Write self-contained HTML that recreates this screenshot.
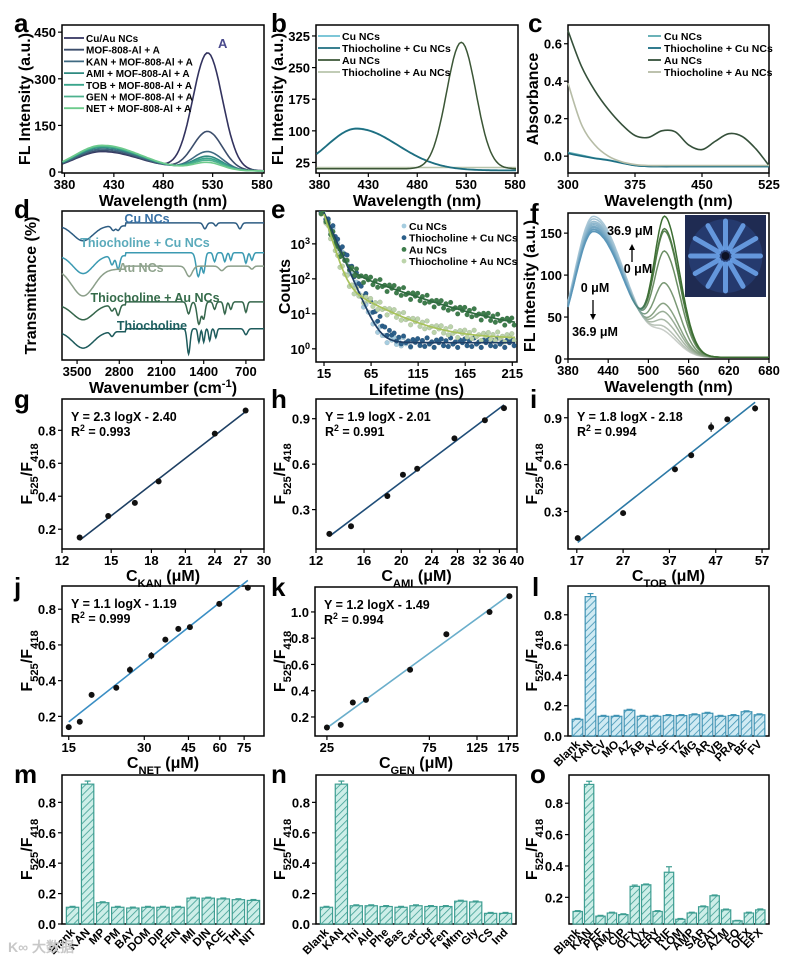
<!DOCTYPE html>
<html><head><meta charset="utf-8"><style>
html,body{margin:0;padding:0;background:#fff;}
svg{display:block;font-family:"Liberation Sans",Arial,sans-serif;font-weight:bold;}
</style></head><body>
<svg id="fig" width="800" height="960" viewBox="0 0 800 960" xmlns="http://www.w3.org/2000/svg">
<defs>
<pattern id="hatchBlue" patternUnits="userSpaceOnUse" width="5" height="5" patternTransform="rotate(45)"><rect width="5" height="5" fill="#cfeaf3"/><line x1="0" y1="0" x2="0" y2="5" stroke="#3f93b3" stroke-width="1.6"/></pattern>
<pattern id="hatchTeal" patternUnits="userSpaceOnUse" width="5" height="5" patternTransform="rotate(45)"><rect width="5" height="5" fill="#cdeee8"/><line x1="0" y1="0" x2="0" y2="5" stroke="#3e9e92" stroke-width="1.6"/></pattern>
<clipPath id="clipE"><rect x="316" y="211" width="201" height="151"/></clipPath>
</defs>
</svg>
<script>
// ---------------- DATA ----------------
const aSeries=['Cu/Au NCs','MOF-808-Al + A','KAN + MOF-808-Al + A','AMI  + MOF-808-Al + A','TOB + MOF-808-Al + A','GEN + MOF-808-Al + A','NET + MOF-808-Al + A'];
const aPeak418=[62,65,70,75,78,80,82];
const aPeak525=[378,125,60,45,38,32,25];
const aTicks=[380,430,480,530,580];
const aYTicks=[0,150,300,450];

const bSeries=['Cu NCs','Thiocholine + Cu NCs','Au NCs','Thiocholine + Au NCs'];
const bPeak418=[100,99,0,0];
const bPeak525=[0,0,300,0];
const bBase=[6,6,10,13];
const bTicks=[380,430,480,530,580];
const bYTicks=[25,100,175,250,325];

const cSeries=['Cu NCs','Thiocholine + Cu NCs','Au NCs','Thiocholine + Au NCs'];
const cX=[300,315,330,345,360,375,390,405,420,435,450,465,480,495,510,525];
const cCu=[0.02,0.005,-0.01,-0.02,-0.035,-0.05,-0.055,-0.055,-0.055,-0.055,-0.055,-0.055,-0.055,-0.055,-0.055,-0.055];
const cThioCu=[0.015,0.0,-0.012,-0.022,-0.037,-0.05,-0.055,-0.056,-0.056,-0.056,-0.056,-0.056,-0.056,-0.056,-0.056,-0.056];
const cAu=[0.67,0.48,0.35,0.25,0.17,0.11,0.10,0.135,0.13,0.06,0.035,0.08,0.12,0.105,0.04,-0.05];
const cThioAu=[0.39,0.17,0.06,0.0,-0.03,-0.045,-0.05,-0.05,-0.05,-0.05,-0.05,-0.05,-0.05,-0.05,-0.05,-0.05];
const cTicks=[300,375,450,525];
const cYTicks=[0.0,0.2,0.4,0.6];

const dNames=['Cu NCs','Thiocholine + Cu NCs','Au NCs','Thiocholine + Au NCs','Thiocholine'];
const dBase=[90,70,61,37,19];
const dDips=[
 [[3400,230,10],[2900,40,3],[2820,40,3],[1380,40,4],[1200,30,2],[800,40,4]],
 [[3400,230,12],[2920,40,6],[2820,40,9],[1490,50,16],[1400,35,13],[1220,30,6],[1050,30,6],[950,25,5],[700,30,7],[600,30,5]],
 [[3400,260,18],[1640,70,7],[1100,60,3],[600,40,2]],
 [[3400,240,10],[2920,40,4],[2820,40,7],[1650,40,8],[1480,45,15],[1400,35,11],[1220,30,5],[1050,30,8],[950,30,5],[700,30,7]],
 [[3400,240,11],[2920,40,3],[1650,35,17],[1480,25,9],[1400,25,9],[1300,25,8],[1200,25,6],[700,40,4]]
];
const dTicks=[3500,2800,2100,1400,700];

const eSeries=['Cu NCs','Thiocholine + Cu NCs','Au NCs','Thiocholine + Au NCs'];
const eAmp1=[8000,8000,7000,7000];
const eTau1=[7,8,6,5];
const eAmp2=[0,0,250,100];
const eTau2=[30,30,45,30];
const eBg=[1.5,1.5,3,2];
const eTicks=[15,65,115,165,215];
const eJitter=[0,0.6,-0.4,0.3,-0.5,0.8,-0.2,0.1,-0.6,0.4];

const fConc=[0,2,4,6,9,13,18,24,30,36.9];
const fPeak418=[168,165,162,160,158,156,155,153,152,150];
const fPeak525=[20,25,33,43,53,78,116,140,143,158];
const fTicks=[380,440,500,560,620,680];
const fYTicks=[0,50,100,150];

const gX=[13,14.8,16.7,18.6,24,27.6]; const gY=[0.15,0.28,0.36,0.49,0.78,0.92]; const gErr=[0.01,0.01,0.01,0.01,0.015,0.015];
const hX=[13,14.8,18.4,20.2,22,27.5,33,37]; const hY=[0.14,0.19,0.39,0.53,0.57,0.77,0.89,0.97]; const hErr=[0.01,0.01,0.02,0.01,0.015,0.01,0.01,0.01];
const iX=[17.2,27,38.2,41.7,46,49.5,55.5]; const iY=[0.13,0.29,0.57,0.66,0.84,0.89,0.96]; const iErr=[0.01,0.01,0.01,0.015,0.03,0.015,0.02];
const jX=[15,16.6,18.5,23.2,26.3,32,36.4,41,45.6,59.7,77.6]; const jY=[0.14,0.17,0.32,0.36,0.46,0.54,0.63,0.69,0.70,0.83,0.92]; const jErr=[0.01,0.01,0.015,0.015,0.02,0.02,0.01,0.01,0.01,0.01,0.01];
const kX=[25,29,33,38,61,90,143,177]; const kY=[0.12,0.14,0.31,0.33,0.56,0.83,1.0,1.12]; const kErr=[0.01,0.01,0.01,0.01,0.01,0.01,0.01,0.01];
const fitA=[2.3,1.9,1.8,1.1,1.2]; const fitB=[-2.40,-2.01,-2.18,-1.19,-1.49];
const fitR2=['0.993','0.991','0.994','0.999','0.994'];

const lCats=['Blank','KAN','CV','MO','AZ','AB','AY','SF','TZ','MG','AR','VB','PRA','BF','FV'];
const lVals=[0.11,0.92,0.13,0.13,0.17,0.13,0.13,0.135,0.135,0.14,0.15,0.13,0.135,0.16,0.14];
const mCats=['Blank','KAN','MP','PM','BAY','DOM','DIP','FEN','IMI','DIN','ACE','THI','NIT'];
const mVals=[0.11,0.92,0.14,0.11,0.105,0.11,0.11,0.11,0.17,0.17,0.165,0.16,0.155];
const nCats=['Blank','KAN','Thi','Ald','Phe','Bas','Car','Cbf','Fen','Mtm','Gly','CS','Ind'];
const nVals=[0.11,0.92,0.12,0.12,0.115,0.11,0.12,0.115,0.115,0.15,0.145,0.07,0.07];
const oCats=['Blank','KAN','PEF','AMX','CIP','OFX','LVX','ERY','RIF','LOM','AMP','SAR','GAT','AZM','FO','OFX','EFX'];
const oVals=[0.11,0.92,0.08,0.10,0.09,0.27,0.28,0.11,0.36,0.06,0.10,0.14,0.21,0.12,0.05,0.10,0.12];
const oErr=[0.005,0.02,0.005,0.005,0.005,0.008,0.005,0.005,0.035,0.005,0.005,0.005,0.005,0.005,0.003,0.005,0.006];

// ---------------- HELPERS ----------------
const NS='http://www.w3.org/2000/svg';
const svg=document.getElementById('fig');
function mk(tag,attrs,parent){const e=document.createElementNS(NS,tag);for(const k in attrs)e.setAttribute(k,attrs[k]);(parent||svg).appendChild(e);return e;}
function lin(d0,d1,r0,r1){return v=>r0+(v-d0)/(d1-d0)*(r1-r0);}
function lg(d0,d1,r0,r1){const a=Math.log10(d0),b=Math.log10(d1);return v=>r0+(Math.log10(v)-a)/(b-a)*(r1-r0);}
function pathFrom(pts){return pts.map((p,i)=>(i?'L':'M')+p[0].toFixed(1)+' '+p[1].toFixed(1)).join(' ');}
function smooth(pts){let d='M'+pts[0][0]+' '+pts[0][1];for(let i=0;i<pts.length-1;i++){const p0=pts[i-1]||pts[i],p1=pts[i],p2=pts[i+1],p3=pts[i+2]||p2;d+=' C'+(p1[0]+(p2[0]-p0[0])/6).toFixed(1)+' '+(p1[1]+(p2[1]-p0[1])/6).toFixed(1)+' '+(p2[0]-(p3[0]-p1[0])/6).toFixed(1)+' '+(p2[1]-(p3[1]-p1[1])/6).toFixed(1)+' '+p2[0].toFixed(1)+' '+p2[1].toFixed(1);}return d;}
function segText(parent,segs,x,y,size,anchor,rot){
  const t=mk('text',{x:x,y:y,'font-size':size,'text-anchor':anchor||'middle'},parent);
  if(rot)t.setAttribute('transform','rotate(-90 '+x+' '+y+')');
  segs.forEach(s=>{const sp=mk('tspan',{},t);if(s[1]==='sub'){sp.setAttribute('baseline-shift','sub');sp.setAttribute('font-size',size*0.7);}if(s[1]==='sup'){sp.setAttribute('baseline-shift','super');sp.setAttribute('font-size',size*0.7);}sp.textContent=s[0];});
  return t;
}
function axes(c){
  const g=mk('g',{});
  
  
  const fr=mk('rect',{x:c.L,y:c.T,width:c.R-c.L,height:c.B-c.T,fill:'none',stroke:'#000','stroke-width':1.5},g);
  
  
  (c.xt||[]).forEach((v,i)=>{const x=c.xs(v);mk('line',{x1:x,x2:x,y1:c.B,y2:c.B+4,stroke:'#000','stroke-width':1.2},g);
    if(c.xl!==false){const t=mk('text',{x:x,y:c.B+16,'font-size':13,'text-anchor':'middle'},g);t.textContent=c.xfmt?c.xfmt(v):v;
    
    }});
  (c.yt||[]).forEach((v,i)=>{const y=c.ys(v);mk('line',{x1:c.L-4,x2:c.L,y1:y,y2:y,stroke:'#000','stroke-width':1.2},g);
    if(c.yl!==false){let t;if(c.ysup){t=segText(g,[['10'],[String(v),'sup']],c.L-6,y+5,13,'end');}else{t=mk('text',{x:c.L-6,y:y+5,'font-size':13,'text-anchor':'end'},g);t.textContent=c.yfmt?c.yfmt(v):v;}
    
    }});
  if(c.xtitle){const t=segText(g,c.xtitle,(c.L+c.R)/2,c.B+(c.xty||33),16,'middle');
    
    }
  if(c.ytitle){const t=segText(g,c.ytitle,c.ytx,(c.T+c.B)/2,16,'middle',true);
    
    }
  const L=mk('text',{x:c.lx,y:c.ly,'font-size':26},g);L.textContent=c.letter;
  
  
  return g;
}
function gauss(x,m,s){return Math.exp(-(x-m)*(x-m)/(2*s*s));}
const WL=[['Wavelength (nm)']];
const FL=[['FL Intensity (a.u.)']];
const RATIO=[['F'],['525','sub'],['/F'],['418','sub']];

// ---------------- PANEL A ----------------
(function(){
  const xs=lin(377.5,582,62,264), ys=lin(-3,473,173,25);
  const g=axes({name:'panel-a',L:62,R:264,T:25,B:173,xs,ys,xt:aTicks,yt:aYTicks,xtitle:WL,ytitle:FL,ytx:30,letter:'a',lx:14,ly:32});
  const cols=['#33335f','#3c4e6c','#3f6a82','#2f8a80','#3aa58c','#4cb18e','#6dcb8c'];
  aSeries.forEach((s,i)=>{
    const pts=[];for(let x=378;x<=582;x+=2){const v=aPeak418[i]*(x<418?gauss(x,418,28):gauss(x,418,40))+aPeak525[i]*gauss(x,525,15)+4;pts.push([xs(x),ys(v)]);}
    const p=mk('path',{d:pathFrom(pts),fill:'none',stroke:cols[i],'stroke-width':1.6},g);
    
    
    const ly=38+i*11.7;
    mk('line',{x1:64,x2:84,y1:ly,y2:ly,stroke:cols[i],'stroke-width':1.8},g);
    const t=mk('text',{x:86,y:ly+4,'font-size':10},g);t.textContent=s;
    
    
  });
  const A=mk('text',{x:218,y:48,'font-size':13,fill:'#4a4a8c'},g);A.textContent='A';
  
  
})();

// ---------------- PANEL B ----------------
(function(){
  const xs=lin(376.5,583,316,518), ys=lin(0,351,173,25);
  const g=axes({name:'panel-b',L:316,R:518,T:25,B:173,xs,ys,xt:bTicks,yt:bYTicks,xtitle:WL,ytitle:FL,ytx:283,letter:'b',lx:271,ly:32});
  const cols=['#6cbfd3','#1e6e80','#3b5636','#b8c4ab'];
  const order=[3,0,1,2];
  order.forEach(i=>{
    const pts=[];for(let x=377;x<=582;x+=2){const v=bPeak418[i]*(x<418?gauss(x,418,30):gauss(x,418,42))+bPeak525[i]*gauss(x,525,15)+bBase[i];pts.push([xs(x),ys(v)]);}
    const p=mk('path',{d:pathFrom(pts),fill:'none',stroke:cols[i],'stroke-width':i===1?1.8:1.5},g);
    
    
  });
  bSeries.forEach((s,i)=>{const ly=36+i*12;mk('line',{x1:318,x2:340,y1:ly,y2:ly,stroke:cols[i],'stroke-width':1.8},g);
    const t=mk('text',{x:342,y:ly+4,'font-size':10.5},g);t.textContent=s;
    
    });
})();

// ---------------- PANEL C ----------------
(function(){
  const xs=lin(300,525,568,769), ys=lin(-0.09,0.70,173,25);
  const g=axes({name:'panel-c',L:568,R:769,T:25,B:173,xs,ys,xt:cTicks,yt:cYTicks,yfmt:v=>v.toFixed(1),xtitle:WL,ytitle:[['Absorbance']],ytx:538,letter:'c',lx:528,ly:32});
  const cols=['#5ba9b0','#1c6e83','#35503a','#b6bca6'];
  [cCu,cThioCu,cAu,cThioAu].forEach((arr,i)=>{
    const pts=cX.map((x,j)=>[xs(x),ys(arr[j])]);
    const p=mk('path',{d:smooth(pts),fill:'none',stroke:cols[i],'stroke-width':1.6},g);
    
    
  });
  cSeries.forEach((s,i)=>{const ly=36+i*12;mk('line',{x1:648,x2:661,y1:ly,y2:ly,stroke:cols[i],'stroke-width':1.8},g);
    const t=mk('text',{x:664,y:ly+4,'font-size':10.5},g);t.textContent=s;
    
    });
})();

// ---------------- PANEL D ----------------
(function(){
  const xs=lin(3750,400,62,264), ys=lin(0,100,360,211);
  const g=axes({name:'panel-d',L:62,R:264,T:211,B:360,xs,ys,xt:dTicks,yt:[],xtitle:[['Wavenumber (cm'],['-1','sup'],[')']],ytitle:[['Transmittance (%)']],ytx:36,letter:'d',lx:14,ly:218});
  const cols=['#2d5c82','#3b9ab2','#8c9f8a','#35664b','#1e5b5c'];
  const lcols=['#3a72a6','#5aaabb','#90a48e','#356b4a','#1f6060'];
  const lpos=[[147,223],[145,247],[141,272],[155,302],[152,330]];
  dNames.forEach((n,i)=>{
    const pts=[];
    for(let w=3750;w>=400;w-=10){let v=dBase[i]+(w<2700?2:0);dDips[i].forEach(d=>{const z=(w-d[0])/d[1];v-=d[2]*Math.exp(-z*z);});pts.push([xs(w),ys(v)]);}
    const p=mk('path',{d:pathFrom(pts),fill:'none',stroke:cols[i],'stroke-width':1.5},g);
    
    
    const t=mk('text',{x:lpos[i][0],y:lpos[i][1],'font-size':12.5,'text-anchor':'middle',fill:lcols[i]},g);t.textContent=n;
    
    
  });
})();

// ---------------- PANEL E ----------------
(function(){
  const xs=lin(6.5,220,316,517), ys=lg(0.42,8700,362,211);
  const g=axes({name:'panel-e',L:316,R:517,T:211,B:362,xs,ys:(v)=>ys(Math.pow(10,v)),xt:eTicks,yt:[0,1,2,3],ysup:true,xtitle:[['Lifetime (ns)']],ytitle:[['Counts']],ytx:290,letter:'e',lx:271,ly:218});
  const pc=['#a6cde0','#2b5f8a','#3e7d4c','#bcd4aa'];
  const lc=['#1f3f66','#1f3f66','#2f6a3f','#a8c25a'];
  const cg=mk('g',{'clip-path':'url(#clipE)'},g);
  const f=(i,t)=>eAmp1[i]*Math.exp(-(t-15)/eTau1[i])+eAmp2[i]*Math.exp(-(t-15)/eTau2[i])+eBg[i];
  [0,1,3,2].forEach(i=>{
    let k=0;
    for(let t=12;t<=218;t+=2.5){let v=f(i,Math.max(t,15))*(1+0.45*eJitter[k%eJitter.length]);k++;v=Math.max(v,0.9);
      const c=mk('circle',{cx:xs(t),cy:ys(v),r:2.4,fill:pc[i],stroke:'#00000033','stroke-width':0.4},cg);
      
      }
  });
  [0,2,3].forEach(i=>{
    const pts=[];for(let t=15;t<=218;t+=1)pts.push([xs(t),ys(f(i,t))]);
    const p=mk('path',{d:pathFrom(pts),fill:'none',stroke:lc[i],'stroke-width':1.7},cg);
    
    
  });
  eSeries.forEach((s,i)=>{const ly=226+i*11.7;mk('circle',{cx:404,cy:ly,r:2.4,fill:pc[i]},g);
    const t=mk('text',{x:409,y:ly+4,'font-size':10.5},g);t.textContent=s;
    
    });
})();

// ---------------- PANEL F ----------------
(function(){
  const xs=lin(380,680,568,769), ys=lin(0,174,359,213);
  const g=axes({name:'panel-f',L:568,R:769,T:213,B:359,xs,ys,xt:fTicks,yt:fYTicks,xtitle:WL,ytitle:FL,ytx:535,letter:'f',lx:530,ly:222});
  const defs=svg.querySelector('defs');
  fConc.forEach((c,i)=>{
    const tt=i/(fConc.length-1);
    const gr=mk('linearGradient',{id:'fg'+i,gradientUnits:'userSpaceOnUse',x1:xs(470),x2:xs(500),y1:0,y2:0},defs);
    const bl='rgb('+Math.round(170-80*tt)+','+Math.round(200-50*tt)+','+Math.round(215-30*tt)+')';
    const gn='rgb('+Math.round(200-140*tt)+','+Math.round(205-95*tt)+','+Math.round(200-150*tt)+')';
    mk('stop',{offset:0,'stop-color':bl},gr);mk('stop',{offset:1,'stop-color':gn},gr);
    const pts=[];for(let x=380;x<=680;x+=2){const v=fPeak418[i]*(x<418?gauss(x,418,28):gauss(x,418,46))+fPeak525[i]*(x<525?gauss(x,525,16):gauss(x,525,22))+2;pts.push([xs(x),ys(v)]);}
    const p=mk('path',{d:pathFrom(pts),fill:'none',stroke:'url(#fg'+i+')','stroke-width':1.5},g);
    
    
  });
  const ann=[['36.9 μM',630,235],['0 μM',638,273],['0 μM',595,292],['36.9 μM',595,336]];
  ann.forEach(a=>{const t=mk('text',{x:a[1],y:a[2],'font-size':12.5,'text-anchor':'middle'},g);t.textContent=a[0];
    
    });
  mk('line',{x1:632,x2:632,y1:262,y2:248,stroke:'#000','stroke-width':1.3},g);
  mk('path',{d:'M629 250 L632 244 L635 250 Z',fill:'#000'},g);
  mk('line',{x1:593,x2:593,y1:300,y2:316,stroke:'#000','stroke-width':1.3},g);
  mk('path',{d:'M590 314 L593 320 L596 314 Z',fill:'#000'},g);
  const ins=mk('g',{},g);
  
  
  mk('rect',{x:685,y:215,width:81,height:82,fill:'#1f2b52'},ins);
  mk('circle',{cx:725.5,cy:256,r:37,fill:'#253a6e'},ins);
  for(let k=0;k<12;k++){const a=k*Math.PI/6;const x1=725.5+8*Math.cos(a),y1=256+8*Math.sin(a),x2=725.5+35*Math.cos(a),y2=256+35*Math.sin(a);
    mk('line',{x1:x1,y1:y1,x2:x2,y2:y2,stroke:'#6fa8f0','stroke-width':5,'stroke-linecap':'round',opacity:0.85},ins);}
  mk('circle',{cx:725.5,cy:256,r:4,fill:'#0d1226'},ins);
})();

// ---------------- SCATTER PANELS ----------------
function scatter(cfg,X,Y,E,k,col){
  const g=axes(cfg);
  // least-squares straight line in plot coordinates
  const px=X.map(x=>cfg.xs(x)), n=X.length;
  const mx=px.reduce((a,b)=>a+b,0)/n, my=Y.reduce((a,b)=>a+b,0)/n;
  let sxy=0,sxx=0;px.forEach((p,i)=>{sxy+=(p-mx)*(Y[i]-my);sxx+=(p-mx)*(p-mx);});
  const sl=sxy/sxx, ic=my-sl*mx;
  const x0=Math.min(...px),x1=Math.max(...px);
  const p=mk('line',{x1:x0,y1:cfg.ys(ic+sl*x0),x2:x1,y2:cfg.ys(ic+sl*x1),stroke:col,'stroke-width':1.6},g);
  
  
  X.forEach((x,i)=>{const cx=cfg.xs(x),cy=cfg.ys(Y[i]);
    mk('line',{x1:cx,x2:cx,y1:cfg.ys(Y[i]-E[i]),y2:cfg.ys(Y[i]+E[i]),stroke:'#000','stroke-width':1},g);
    const c=mk('circle',{cx:cx,cy:cy,r:3,fill:'#111'},g);
    
    });
  const t1=mk('text',{x:cfg.L+9,y:cfg.T+22,'font-size':12.5},g);t1.textContent='Y = '+fitA[k]+' logX - '+Math.abs(fitB[k]).toFixed(2);
  
  
  const t2=segText(g,[['R'],['2','sup'],[' = '+fitR2[k]]],cfg.L+9,cfg.T+37,12.5,'start');
  
  
}
const f1=v=>v.toFixed(1);
scatter({name:'panel-g',L:62,R:264,T:399,B:549,xs:lg(12,30,62,264),ys:lin(0.08,0.99,549,399),xt:[12,15,18,21,24,27,30],yt:[0.2,0.4,0.6,0.8],yfmt:f1,xtitle:[['C'],['KAN','sub'],[' (μM)']],xty:32,ytitle:RATIO,ytx:32,letter:'g',lx:14,ly:408},gX,gY,gErr,0,'#1d3f63');
scatter({name:'panel-h',L:316,R:517,T:399,B:549,xs:lg(12,40,316,517),ys:lin(0.04,1.03,549,399),xt:[12,16,20,24,28,32,36,40],yt:[0.3,0.6,0.9],yfmt:f1,xtitle:[['C'],['AMI','sub'],[' (μM)']],xty:32,ytitle:RATIO,ytx:285,letter:'h',lx:271,ly:408},hX,hY,hErr,1,'#1f4d78');
scatter({name:'panel-i',L:568,R:769,T:399,B:549,xs:lin(15.1,58.5,568,769),ys:lin(0.06,1.02,549,399),xt:[17,27,37,47,57],yt:[0.3,0.6,0.9],yfmt:f1,xtitle:[['C'],['TOB','sub'],[' (μM)']],xty:32,ytitle:RATIO,ytx:537,letter:'i',lx:530,ly:408},iX,iY,iErr,2,'#2c79a6');
scatter({name:'panel-j',L:62,R:264,T:586,B:736,xs:lg(14.1,90,62,264),ys:lin(0.09,0.93,736,586),xt:[15,30,45,60,75],yt:[0.2,0.4,0.6,0.8],yfmt:f1,xtitle:[['C'],['NET','sub'],[' (μM)']],xty:32,ytitle:RATIO,ytx:32,letter:'j',lx:14,ly:596},jX,jY,jErr,3,'#3a8ec4');
scatter({name:'panel-k',L:315,R:517,T:587,B:736,xs:lg(22,192,315,517),ys:lin(0.055,1.19,736,587),xt:[25,75,125,175],yt:[0.2,0.4,0.6,0.8,1.0],yfmt:f1,xtitle:[['C'],['GEN','sub'],[' (μM)']],xty:32,ytitle:RATIO,ytx:285,letter:'k',lx:271,ly:596},kX,kY,kErr,4,'#6aaecb');

// ---------------- BAR PANELS ----------------
function barChart(cfg,cats,vals,errs,pat,stroke){
  const g=axes(cfg);
  const n=cats.length,slot=(cfg.R-cfg.L-6)/n,bw=slot*0.82;
  cats.forEach((c,i)=>{
    const cx=cfg.L+3+slot*(i+0.5);
    const y0=cfg.ys(Math.max(cfg.ymin,0)),y1=cfg.ys(vals[i]);
    const b=mk('rect',{x:cx-bw/2,y:y1,width:bw,height:Math.max(0,y0-y1),fill:'url(#'+pat+')',stroke:stroke,'stroke-width':1.2},g);
    
    
    const e=errs?errs[i]:(i===1?0.02:0.006);
    const ye=cfg.ys(vals[i]+e);
    mk('line',{x1:cx,x2:cx,y1:y1,y2:ye,stroke:stroke,'stroke-width':1.2},g);
    mk('line',{x1:cx-3,x2:cx+3,y1:ye,y2:ye,stroke:stroke,'stroke-width':1.2},g);
    const tx=cx+3,ty=cfg.B+9;
    const t=mk('text',{x:tx,y:ty,'font-size':11.5,'text-anchor':'end',transform:'rotate(-45 '+tx+' '+ty+')'},g);t.textContent=c;
    
    
  });
}
const barY=[0.0,0.2,0.4,0.6,0.8];
barChart({name:'panel-l',L:568,R:769,T:586,B:736,ys:lin(0,0.99,736,586),ymin:0,yt:barY,yfmt:f1,xt:[],ytitle:RATIO,ytx:537,letter:'l',lx:532,ly:596},lCats,lVals,null,'hatchBlue','#3f93b3');
barChart({name:'panel-m',L:62,R:264,T:775,B:924,ys:lin(0,0.98,924,775),ymin:0,yt:barY,yfmt:f1,xt:[],ytitle:RATIO,ytx:32,letter:'m',lx:14,ly:783},mCats,mVals,null,'hatchTeal','#3e9e92');
barChart({name:'panel-n',L:316,R:516,T:775,B:924,ys:lin(0,0.98,924,775),ymin:0,yt:barY,yfmt:f1,xt:[],ytitle:RATIO,ytx:285,letter:'n',lx:271,ly:783},nCats,nVals,null,'hatchTeal','#3e9e92');
barChart({name:'panel-o',L:569,R:769,T:775,B:924,ys:lin(0.03,0.98,924,775),ymin:0.03,yt:[0.2,0.4,0.6,0.8],yfmt:f1,xt:[],ytitle:RATIO,ytx:537,letter:'o',lx:530,ly:783},oCats,oVals,oErr,'hatchTeal','#3e9e92');

// watermark
const wm=mk('text',{x:8,y:952,'font-size':14,fill:'#c8c8c8'});
wm.textContent='K∞ 大数据';


</script>
</body></html>
